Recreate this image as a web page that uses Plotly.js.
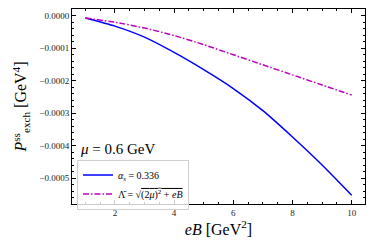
<!DOCTYPE html>
<html><head><meta charset="utf-8">
<script src="https://cdn.plot.ly/plotly-3.0.1.min.js"></script>
<style>body{margin:0;padding:0;background:#fff}</style>
</head><body>
<div id="chart" style="width:374px;height:249px"></div>
<script>
const eB = [1, 2, 3, 4, 5, 6, 7, 8, 9, 10];
const pAlpha = [-0.07e-4, -0.32e-4, -0.66e-4, -1.13e-4, -1.66e-4, -2.24e-4, -2.92e-4, -3.73e-4, -4.59e-4, -5.52e-4];
const pLambda = [-0.07e-4, -0.20e-4, -0.38e-4, -0.61e-4, -0.89e-4, -1.20e-4, -1.51e-4, -1.82e-4, -2.13e-4, -2.44e-4];
const yTickVals = [0, -0.0001, -0.0002, -0.0003, -0.0004, -0.0005];
const yTickText = ["0.0000", "\u22120.0001", "\u22120.0002", "\u22120.0003", "\u22120.0004", "\u22120.0005"];
const xTickVals = [2, 4, 6, 8, 10];

const serif = "Liberation Serif, DejaVu Serif, serif";
const traces = [
  {x: eB, y: pAlpha, mode: 'lines', name: '<i>α<sub>s</sub></i> = 0.336',
   line: {color: '#0000ff', width: 1.5, shape: 'spline', smoothing: 0.6}},
  {x: eB, y: pLambda, mode: 'lines', name: 'Λ\u0304 = √<span style="text-decoration:overline">(2<i>μ</i>)<sup>2</sup> + <i>eB</i></span>',
   line: {color: '#bf00bf', width: 1.5, dash: '6px,2px,1.5px,2px', shape: 'spline', smoothing: 0.6}}
];
const axisCommon = {
  showline: true, mirror: 'ticks', linecolor: '#000', linewidth: 1,
  ticks: 'inside', ticklen: 4, tickcolor: '#000', tickwidth: 1,
  showgrid: false, zeroline: false,
  tickfont: {family: serif, size: 9, color: '#222'}
};
const layout = {
  width: 374, height: 249,
  margin: {l: 72, r: 9, t: 9, b: 45},
  paper_bgcolor: '#fff', plot_bgcolor: '#fff',
  showlegend: true,
  font: {family: serif},
  xaxis: Object.assign({}, axisCommon, {
    range: [0.55, 10.45], tickvals: xTickVals, ticktext: xTickVals.map(String),
    minor: {ticks: 'inside', ticklen: 2, dtick: 0.5, tick0: 0, tickcolor: '#000'},
    title: {text: '<i>eB</i> [GeV<sup>2</sup>]', font: {family: serif, size: 16, color: '#000'}, standoff: 6}
  }),
  yaxis: Object.assign({}, axisCommon, {
    range: [-0.000579, 0.0000206], tickvals: yTickVals, ticktext: yTickText,
    minor: {ticks: 'inside', ticklen: 2, dtick: 0.00002, tick0: 0, tickcolor: '#000'},
    title: {text: '<i>P</i><sup>ss</sup><sub>exch</sub> [GeV<sup>4</sup>]', font: {family: serif, size: 16, color: '#000'}, standoff: 8}
  }),
  legend: {x: 0.017, y: 0.228, xanchor: 'left', yanchor: 'top',
    bgcolor: 'rgba(255,255,255,0.8)', bordercolor: '#d0d0d0', borderwidth: 1,
    font: {family: serif, size: 10, color: '#000'}, tracegroupgap: 0, itemwidth: 30},
  annotations: [{xref: 'paper', yref: 'paper', x: 0.02, y: 0.28, xanchor: 'left', yanchor: 'middle',
    text: '<i>μ</i> = 0.6 GeV', showarrow: false, font: {family: serif, size: 15, color: '#000'}}]
};
Plotly.newPlot('chart', traces, layout, {staticPlot: true, displayModeBar: false});
</script>
</body></html>
